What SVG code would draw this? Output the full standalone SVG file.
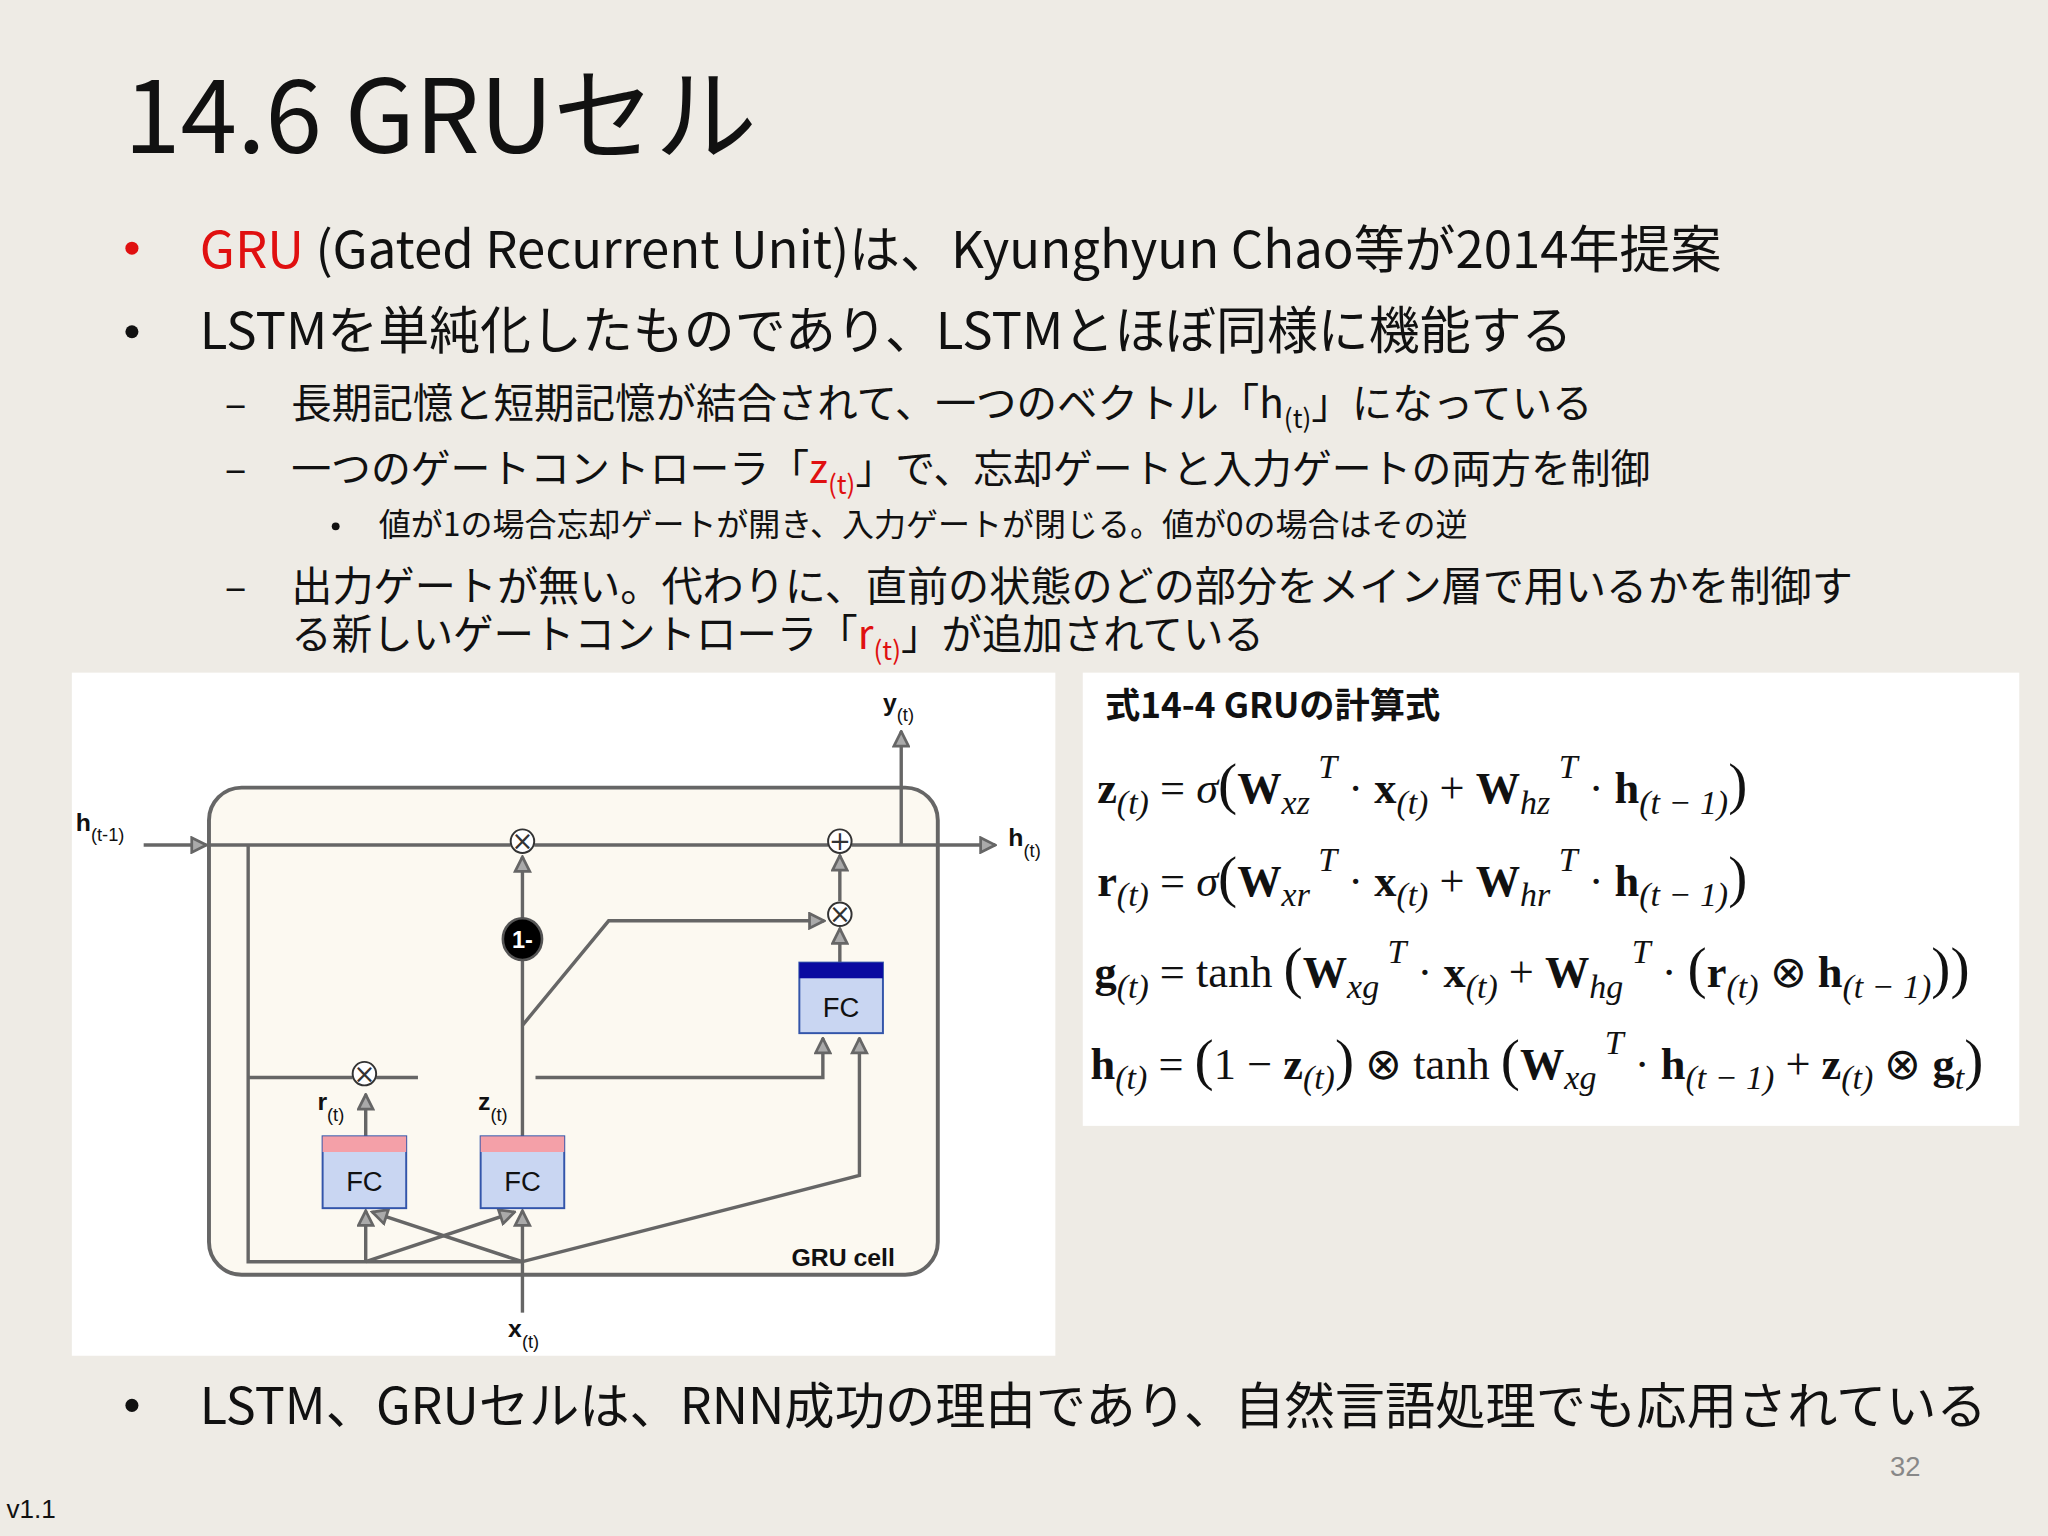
<svg xmlns="http://www.w3.org/2000/svg" width="2048" height="1536" viewBox="0 0 2048 1536">
<style>
.j{font-family:"Noto Sans CJK JP","Noto Sans",sans-serif;fill:#111}
.s{font-family:"Liberation Sans",Arial,sans-serif;fill:#111}
.m{font-family:"Liberation Serif","Times New Roman",serif;fill:#111;font-size:34px}
.ln{stroke:#666;stroke-width:2.6;fill:none}
.op{font-family:"DejaVu Sans",sans-serif;font-size:20px;fill:#333;text-anchor:middle}
.fc{fill:#c9d6f2;stroke:#3355aa;stroke-width:1.5}
.lb{font-family:"Liberation Sans",Arial,sans-serif;font-weight:bold;font-size:19px;fill:#111}
.sb{font-size:14px;font-weight:normal}
.i{font-style:italic;font-size:26px}
.b{font-weight:bold}
.p{font-size:44px}
</style>
<defs>
<marker id="a" viewBox="0 0 10 10" refX="9" refY="5" markerWidth="14" markerHeight="14" orient="auto" markerUnits="userSpaceOnUse">
<path d="M1,1 L9,5 L1,9 z" fill="#aaa" stroke="#666" stroke-width="1.5"/>
</marker>
</defs>
<rect width="2048" height="1536" fill="#eeebe5"/>
<g transform="scale(1.306122)">
<g id="text">
<text class="j" x="95" y="117" font-size="78">14.6 GRUセル</text>
<circle cx="101" cy="190" r="5" fill="#e01010"/>
<text class="j" x="153" y="205" font-size="39"><tspan fill="#e01010">GRU</tspan> (Gated Recurrent Unit)は、Kyunghyun Chao等が2014年提案</text>
<circle cx="101" cy="254" r="5" fill="#111"/>
<text class="j" x="153" y="267" font-size="39">LSTMを単純化したものであり、LSTMとほぼ同様に機能する</text>
<text class="j" x="172" y="320" font-size="31">–</text>
<text class="j" x="223" y="320" font-size="31">長期記憶と短期記憶が結合されて、一つのベクトル「h<tspan font-size="20" dy="8">(t)</tspan><tspan dy="-8">」になっている</tspan></text>
<text class="j" x="172" y="370" font-size="31">–</text>
<text class="j" x="223" y="370" font-size="30.5">一つのゲートコントローラ「<tspan fill="#e01010">z</tspan><tspan font-size="20" dy="8" fill="#e01010">(t)</tspan><tspan dy="-8">」で、忘却ゲートと入力ゲートの両方を制御</tspan></text>
<circle cx="257" cy="403" r="3" fill="#111"/>
<text class="j" x="290" y="410" font-size="24.5">値が1の場合忘却ゲートが開き、入力ゲートが閉じる。値が0の場合はその逆</text>
<text class="j" x="172" y="460" font-size="31">–</text>
<text class="j" x="223" y="460" font-size="31.5">出力ゲートが無い。代わりに、直前の状態のどの部分をメイン層で用いるかを制御す</text>
<text class="j" x="223" y="497" font-size="31">る新しいゲートコントローラ「<tspan fill="#e01010">r</tspan><tspan font-size="20" dy="8" fill="#e01010">(t)</tspan><tspan dy="-8">」が追加されている</tspan></text>
<circle cx="101" cy="1076" r="5" fill="#111"/>
<text class="j" x="153" y="1090" font-size="38.5">LSTM、GRUセルは、RNN成功の理由であり、自然言語処理でも応用されている</text>
<text class="s" x="1447" y="1130" font-size="21" style="fill:#888">32</text>
<text class="s" x="5" y="1162" font-size="20">v1.1</text>
</g>
<g id="diagram">
<rect x="55" y="515" width="753" height="523" fill="#fff"/>
<rect x="160" y="603" width="558" height="373" rx="25" fill="#fcf9f1" stroke="#666" stroke-width="3"/>
</g>
<g id="connectors">
<line class="ln" x1="110" y1="647" x2="158" y2="647" marker-end="url(#a)"/>
<line class="ln" x1="160" y1="647" x2="391" y2="647"/>
<line class="ln" x1="409" y1="647" x2="634" y2="647"/>
<line class="ln" x1="652" y1="647" x2="762" y2="647" marker-end="url(#a)"/>
<line class="ln" x1="690" y1="647" x2="690" y2="560" marker-end="url(#a)"/>
<polyline class="ln" points="190,647 190,966 400,966"/>
<line class="ln" x1="400" y1="1005" x2="400" y2="927" marker-end="url(#a)"/>
<line class="ln" x1="280" y1="966" x2="280" y2="927" marker-end="url(#a)"/>
<line class="ln" x1="400" y1="966" x2="285" y2="928" marker-end="url(#a)"/>
<line class="ln" x1="280" y1="966" x2="394" y2="928" marker-end="url(#a)"/>
<polyline class="ln" points="400,966 658,900 658,795" marker-end="url(#a)"/>
<line class="ln" x1="280" y1="870" x2="280" y2="838" marker-end="url(#a)"/>
<polyline class="ln" points="190,825 270,825"/>
<polyline class="ln" points="288,825 320,825"/>
<polyline class="ln" points="410,825 630,825 630,795" marker-end="url(#a)"/>
<line class="ln" x1="400" y1="870" x2="400" y2="734"/>
<line class="ln" x1="400" y1="704" x2="400" y2="656" marker-end="url(#a)"/>
<polyline class="ln" points="400,785 466,705 631,705" marker-end="url(#a)"/>
<line class="ln" x1="643" y1="737" x2="643" y2="711" marker-end="url(#a)"/>
<line class="ln" x1="643" y1="690" x2="643" y2="655" marker-end="url(#a)"/>
</g>
<g id="nodes">
<g id="mul1"><circle cx="400" cy="644" r="9" fill="#fff" stroke="#333" stroke-width="1.5"/><text class="op" x="400" y="651">×</text></g>
<g id="add"><circle cx="643" cy="644" r="9" fill="#fff" stroke="#333" stroke-width="1.5"/><text class="op" x="643" y="651">+</text></g>
<g id="mul2"><circle cx="643" cy="700" r="9" fill="#fff" stroke="#333" stroke-width="1.5"/><text class="op" x="643" y="707">×</text></g>
<g id="mul3"><circle cx="279" cy="822" r="9" fill="#fff" stroke="#333" stroke-width="1.5"/><text class="op" x="279" y="829">×</text></g>
<g id="one"><ellipse cx="400" cy="719" rx="15" ry="16" fill="#000" stroke="#555" stroke-width="2"/><text class="s" x="400" y="726" font-size="18" font-weight="bold" text-anchor="middle" style="fill:#fff">1-</text></g>
<g id="fcr"><rect class="fc" x="247" y="870" width="64" height="55"/><rect x="247" y="870" width="64" height="12" fill="#f4a0a8"/><text class="s" x="279" y="912" font-size="21" text-anchor="middle">FC</text></g>
<g id="fcz"><rect class="fc" x="368" y="870" width="64" height="55"/><rect x="368" y="870" width="64" height="12" fill="#f4a0a8"/><text class="s" x="400" y="912" font-size="21" text-anchor="middle">FC</text></g>
<g id="fcg"><rect class="fc" x="612" y="737" width="64" height="54"/><rect x="612" y="737" width="64" height="12" fill="#0a0aa0"/><text class="s" x="644" y="779" font-size="21" text-anchor="middle">FC</text></g>
<text class="lb" x="58" y="636">h<tspan class="sb" dy="8">(t-1)</tspan></text>
<text class="lb" x="676" y="544">y<tspan class="sb" dy="8">(t)</tspan></text>
<text class="lb" x="772" y="648">h<tspan class="sb" dy="8">(t)</tspan></text>
<text class="lb" x="243" y="850">r<tspan class="sb" dy="8">(t)</tspan></text>
<text class="lb" x="366" y="850">z<tspan class="sb" dy="8">(t)</tspan></text>
<text class="lb" x="389" y="1024">x<tspan class="sb" dy="8">(t)</tspan></text>
<text class="lb" x="606" y="969" font-size="21">GRU cell</text>
</g>
<g id="equations">
<rect x="829" y="515" width="717" height="347" fill="#fff"/>
<text class="j" x="846" y="550" font-size="27" font-weight="bold">式14-4 GRUの計算式</text>
<text class="m" x="840" y="615"><tspan class="b">z</tspan><tspan class="i" dy="8">(t)</tspan><tspan dy="-8">  = </tspan><tspan font-style="italic">σ</tspan><tspan class="p">(</tspan><tspan class="b">W</tspan><tspan class="i" dy="8">xz</tspan><tspan class="i" dy="-27"> T</tspan><tspan dy="19"> · </tspan><tspan class="b">x</tspan><tspan class="i" dy="8">(t)</tspan><tspan dy="-8"> + </tspan><tspan class="b">W</tspan><tspan class="i" dy="8">hz</tspan><tspan class="i" dy="-27"> T</tspan><tspan dy="19"> · </tspan><tspan class="b">h</tspan><tspan class="i" dy="8">(t − 1)</tspan><tspan class="p" dy="-8">)</tspan></text>
<text class="m" x="840" y="686"><tspan class="b">r</tspan><tspan class="i" dy="8">(t)</tspan><tspan dy="-8">  = </tspan><tspan font-style="italic">σ</tspan><tspan class="p">(</tspan><tspan class="b">W</tspan><tspan class="i" dy="8">xr</tspan><tspan class="i" dy="-27"> T</tspan><tspan dy="19"> · </tspan><tspan class="b">x</tspan><tspan class="i" dy="8">(t)</tspan><tspan dy="-8"> + </tspan><tspan class="b">W</tspan><tspan class="i" dy="8">hr</tspan><tspan class="i" dy="-27"> T</tspan><tspan dy="19"> · </tspan><tspan class="b">h</tspan><tspan class="i" dy="8">(t − 1)</tspan><tspan class="p" dy="-8">)</tspan></text>
<text class="m" x="838" y="756"><tspan class="b">g</tspan><tspan class="i" dy="8">(t)</tspan><tspan dy="-8">  =   tanh </tspan><tspan class="p">(</tspan><tspan class="b">W</tspan><tspan class="i" dy="8">xg</tspan><tspan class="i" dy="-27"> T</tspan><tspan dy="19"> · </tspan><tspan class="b">x</tspan><tspan class="i" dy="8">(t)</tspan><tspan dy="-8"> + </tspan><tspan class="b">W</tspan><tspan class="i" dy="8">hg</tspan><tspan class="i" dy="-27"> T</tspan><tspan dy="19"> · </tspan><tspan class="p">(</tspan><tspan class="b">r</tspan><tspan class="i" dy="8">(t)</tspan><tspan dy="-8"> ⊗ </tspan><tspan class="b">h</tspan><tspan class="i" dy="8">(t − 1)</tspan><tspan class="p" dy="-8">))</tspan></text>
<text class="m" x="835" y="826"><tspan class="b">h</tspan><tspan class="i" dy="8">(t)</tspan><tspan dy="-8">  = </tspan><tspan class="p">(</tspan><tspan>1 − </tspan><tspan class="b">z</tspan><tspan class="i" dy="8">(t)</tspan><tspan class="p" dy="-8">)</tspan><tspan> ⊗  tanh </tspan><tspan class="p">(</tspan><tspan class="b">W</tspan><tspan class="i" dy="8">xg</tspan><tspan class="i" dy="-27"> T</tspan><tspan dy="19"> · </tspan><tspan class="b">h</tspan><tspan class="i" dy="8">(t − 1)</tspan><tspan dy="-8"> + </tspan><tspan class="b">z</tspan><tspan class="i" dy="8">(t)</tspan><tspan dy="-8"> ⊗ </tspan><tspan class="b">g</tspan><tspan class="i" dy="8">t</tspan><tspan class="p" dy="-8">)</tspan></text>
</g>
</g>
</svg>
